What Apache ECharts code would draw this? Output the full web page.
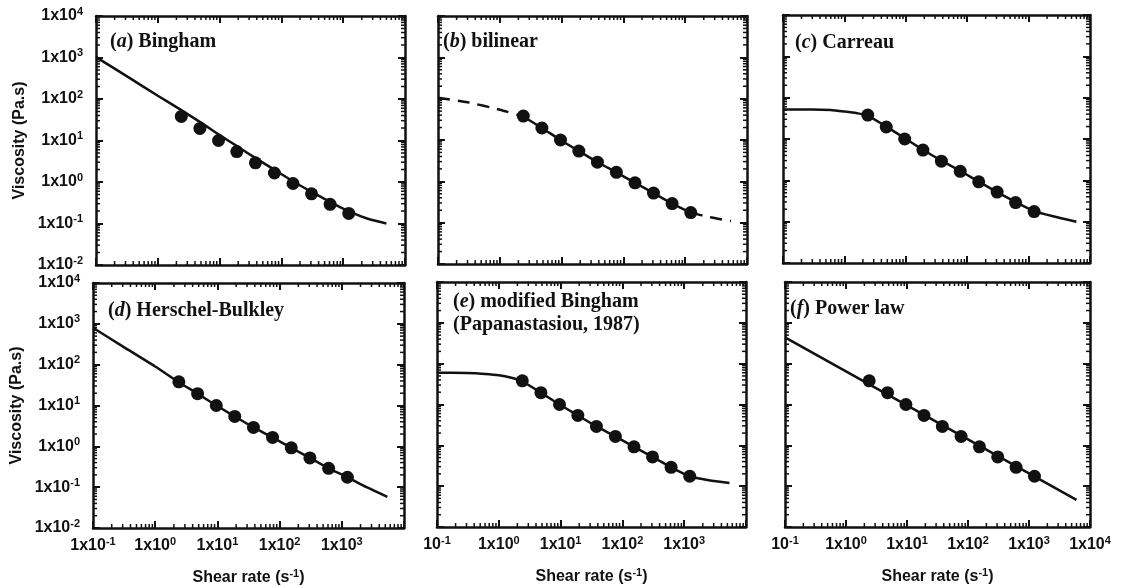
<!DOCTYPE html>
<html>
<head>
<meta charset="utf-8">
<script src="https://cdn.jsdelivr.net/npm/echarts@6/dist/echarts.min.js"></script>
<style>
  html, body { margin: 0; padding: 0; background: #fff; }
  #container { width: 1124px; height: 587px; }
</style>
</head>
<body>
<div id="container"></div>
<script>
// measured points, the same in every panel
let shearRate = [2.4, 4.8, 9.6, 19, 38, 77, 154, 307, 614, 1230];
let viscosity = [38, 19.5, 10, 5.4, 2.9, 1.65, 0.92, 0.52, 0.29, 0.175];

// model curves
let binghamX = [0.1, 0.3, 1, 2.4, 5, 10, 20, 40, 80, 160, 320, 640, 1300, 2500, 5000];
let binghamY = [1020, 370, 120, 54, 27, 13.5, 7, 3.6, 1.9, 1.0, 0.56, 0.32, 0.19, 0.13, 0.1];

let bilinLowX = [0.1, 0.3, 1, 2.4];
let bilinLowY = [105, 82, 54, 37];
let bilinMidX = [2.4, 4.8, 9.6, 19, 38, 77, 154, 307, 614, 1230];
let bilinMidY = [37, 19.5, 10, 5.4, 2.9, 1.65, 0.92, 0.52, 0.29, 0.175];
let bilinHighX = [1230, 2500, 5500];
let bilinHighY = [0.175, 0.135, 0.11];

let carreauX = [0.1, 0.3, 0.6, 1, 1.6, 2.4, 4.8, 9.6, 19, 38, 77, 154, 307, 614, 1230, 2500, 6000];
let carreauY = [52, 52, 50, 46, 42, 37, 20, 10.5, 5.5, 3.0, 1.7, 0.93, 0.52, 0.3, 0.18, 0.135, 0.1];

let hbX = [0.1, 0.3, 1, 2.4, 4.8, 9.6, 19, 38, 77, 154, 307, 614, 1230, 2500, 5400];
let hbY = [800, 280, 90, 37, 19.5, 10, 5.4, 2.9, 1.65, 0.92, 0.52, 0.29, 0.175, 0.1, 0.058];

let papaX = [0.1, 0.3, 0.6, 1, 1.6, 2.4, 4.8, 9.6, 19, 38, 77, 154, 307, 614, 1230, 2500, 5400];
let papaY = [60, 59, 56, 52, 45, 37, 19.5, 10, 5.4, 2.9, 1.65, 0.92, 0.52, 0.29, 0.175, 0.14, 0.12];

let powerX = [0.1, 6000];
let powerY = [440, 0.046];

// tick labels
let yLabels = ["1x10^-2", "1x10^-1", "1x10^0", "1x10^1", "1x10^2", "1x10^3", "1x10^4"];
let xLabelsD = ["1x10^-1", "1x10^0", "1x10^1", "1x10^2", "1x10^3", ""];
let xLabelsE = ["10^-1", "1x10^0", "1x10^1", "1x10^2", "1x10^3", ""];
let xLabelsF = ["10^-1", "1x10^0", "1x10^1", "1x10^2", "1x10^3", "1x10^4"];

let titles = [
  "{n|(}{i|a}{n|) Bingham}",
  "{n|(}{i|b}{n|) bilinear}",
  "{n|(}{i|c}{n|) Carreau}",
  "{n|(}{i|d}{n|) Herschel-Bulkley}",
  "{n|(}{i|e}{n|) modified Bingham}\n{n|(Papanastasiou, 1987)}",
  "{n|(}{i|f}{n|) Power law}",
];

function pairs(xs, ys) {
  return xs.map(function (x, i) { return [x, ys[i]]; });
}

function sup(label) {
  if (!label) return "";
  let p = label.split("^");
  return "{b|" + p[0] + "}{s|" + p[1] + "}";
}

let ink = "#111";
let sansRich = {
  b: { fontFamily: "Liberation Sans", fontWeight: "bold", fontSize: 16, color: ink, lineHeight: 20 },
  s: { fontFamily: "Liberation Sans", fontWeight: "bold", fontSize: 11, color: ink, verticalAlign: "top", lineHeight: 10 },
};
let serifRich = {
  n: { fontFamily: "Liberation Serif", fontWeight: "bold", fontSize: 20, color: ink, lineHeight: 23 },
  i: { fontFamily: "Liberation Serif", fontWeight: "bold", fontStyle: "italic", fontSize: 20, color: ink, lineHeight: 23 },
};

let grids = [
  { left: 96, top: 16, width: 309, height: 249 },
  { left: 438, top: 16, width: 309, height: 248 },
  { left: 783, top: 15, width: 307, height: 248 },
  { left: 93, top: 283, width: 311, height: 245 },
  { left: 437, top: 282, width: 309, height: 245 },
  { left: 785, top: 282, width: 305, height: 245 },
];
let titlePos = [
  [110, 30], [443, 30], [795, 31], [108, 299], [453, 290], [790, 297],
];

// minor tick values for log axes
let xMinor = [];
let yMinor = [];
for (let e = -2; e <= 3; e++) {
  for (let m = 2; m <= 9; m++) {
    let v = m * Math.pow(10, e);
    if (e >= -1) xMinor.push([v, 1]);
    yMinor.push([1, v]);
  }
}

function minorX(params, api) {
  let cs = params.coordSys;
  let px = api.coord([api.value(0), 1])[0];
  let st = { stroke: ink, lineWidth: 1.5 };
  return {
    type: "group",
    children: [
      { type: "line", shape: { x1: px, y1: cs.y + cs.height, x2: px, y2: cs.y + cs.height - 4 }, style: st },
      { type: "line", shape: { x1: px, y1: cs.y, x2: px, y2: cs.y + 4 }, style: st },
    ],
  };
}
function minorY(params, api) {
  let cs = params.coordSys;
  let py = api.coord([1, api.value(1)])[1];
  let st = { stroke: ink, lineWidth: 1.5 };
  return {
    type: "group",
    children: [
      { type: "line", shape: { x1: cs.x, y1: py, x2: cs.x + 4, y2: py }, style: st },
      { type: "line", shape: { x1: cs.x + cs.width, y1: py, x2: cs.x + cs.width - 4, y2: py }, style: st },
    ],
  };
}

let xAxes = [];
let yAxes = [];
let series = [];
let titleList = [];
let xLabelSets = [null, null, null, xLabelsD, xLabelsE, xLabelsF];

for (let g = 0; g < 6; g++) {
  let baseAxis = {
    gridIndex: g,
    type: "log",
    logBase: 10,
    axisLine: { show: true, onZero: false, lineStyle: { color: ink, width: 2.5 } },
    axisTick: { show: true, inside: true, length: 7, lineStyle: { color: ink, width: 2 } },
    splitLine: { show: false },
    minorTick: { show: false },
  };
  let labels = xLabelSets[g];
  xAxes.push(Object.assign({}, baseAxis, {
    position: "bottom",
    min: 0.1,
    max: 10000,
    splitNumber: 5,
    name: g >= 3 ? "{b|Shear rate (s}{s|-1}{b|)}" : "",
    nameLocation: "middle",
    nameGap: 40,
    nameTextStyle: { rich: sansRich },
    axisLabel: {
      show: !!labels,
      margin: 8,
      rich: sansRich,
      formatter: function (v) {
        let k = Math.round(Math.log10(v)) + 1;
        return labels ? sup(labels[k]) : "";
      },
    },
  }));
  xAxes.push(Object.assign({}, baseAxis, {
    position: "top", min: 0.1, max: 10000, splitNumber: 5, axisLabel: { show: false },
  }));
  let leftCol = g === 0 || g === 3;
  yAxes.push(Object.assign({}, baseAxis, {
    position: "left",
    min: 0.01,
    max: 10000,
    splitNumber: 6,
    name: leftCol ? "Viscosity (Pa.s)" : "",
    nameLocation: "middle",
    nameRotate: 90,
    nameGap: 68,
    nameTextStyle: { fontFamily: "Liberation Sans", fontWeight: "bold", fontSize: 16, color: ink },
    axisLabel: {
      show: leftCol,
      margin: 13,
      rich: sansRich,
      formatter: function (v) {
        return sup(yLabels[Math.round(Math.log10(v)) + 2]);
      },
    },
  }));
  yAxes.push(Object.assign({}, baseAxis, {
    position: "right", min: 0.01, max: 10000, splitNumber: 6, axisLabel: { show: false },
  }));

  titleList.push({
    text: titles[g],
    left: titlePos[g][0],
    top: titlePos[g][1],
    padding: 0,
    textStyle: { rich: serifRich },
  });

  let xi = g * 2, yi = g * 2;
  series.push({ type: "custom", xAxisIndex: xi, yAxisIndex: yi, renderItem: minorX, data: xMinor, silent: true, clip: false, z: 1 });
  series.push({ type: "custom", xAxisIndex: xi, yAxisIndex: yi, renderItem: minorY, data: yMinor, silent: true, clip: false, z: 1 });
  series.push({
    type: "scatter",
    xAxisIndex: xi,
    yAxisIndex: yi,
    data: pairs(shearRate, viscosity),
    symbol: "circle",
    symbolSize: 13,
    itemStyle: { color: ink, opacity: 1 },
    z: 4,
  });
}

function curve(g, xs, ys, dashed) {
  return {
    type: "line",
    xAxisIndex: g * 2,
    yAxisIndex: g * 2,
    data: pairs(xs, ys),
    showSymbol: false,
    smooth: 0.2,
    lineStyle: { color: ink, width: 2.5, type: dashed ? [12, 8] : "solid" },
    z: 3,
  };
}

series.push(curve(0, binghamX, binghamY));
series.push(curve(1, bilinLowX, bilinLowY, true));
series.push(curve(1, bilinMidX, bilinMidY));
series.push(curve(1, bilinHighX, bilinHighY, true));
series.push(curve(2, carreauX, carreauY));
series.push(curve(3, hbX, hbY));
series.push(curve(4, papaX, papaY));
series.push(curve(5, powerX, powerY));

let dom = document.getElementById("container");
let myChart = echarts.init(dom, null, { renderer: "canvas" });
let option = {
  animation: false,
  backgroundColor: "#fff",
  title: titleList,
  grid: grids,
  xAxis: xAxes,
  yAxis: yAxes,
  series: series,
};
myChart.setOption(option);
window.addEventListener("resize", myChart.resize);
</script>
</body>
</html>
